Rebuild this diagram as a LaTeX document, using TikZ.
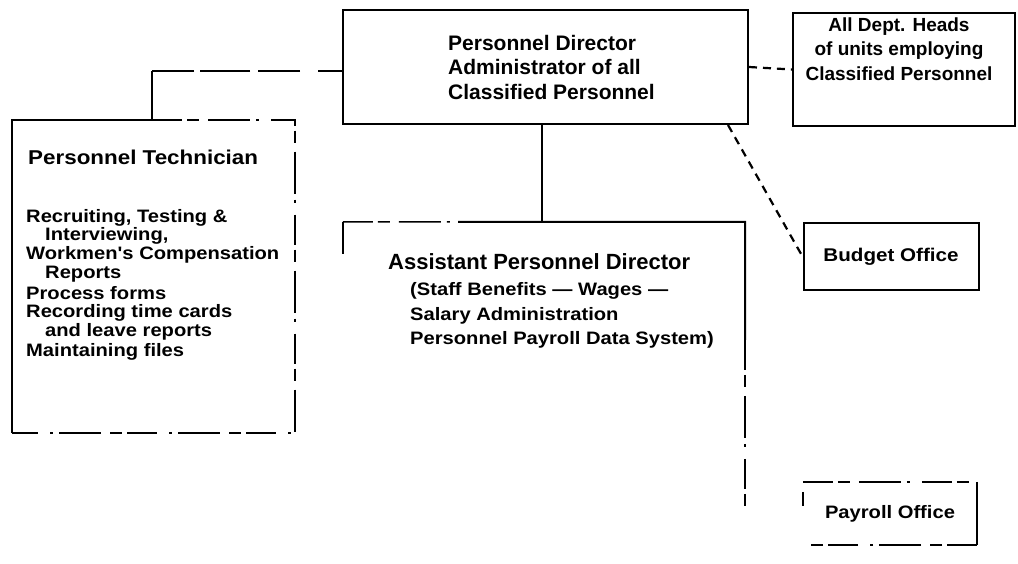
\documentclass[tikz,border=0pt]{standalone}
\usepackage{fontspec}
\setmainfont{Liberation Sans}
% bold sans for headings, and a slightly widened cut of it for the lists
\newfontfamily\headfont{Liberation Sans Bold}
\newfontfamily\orgfont{Liberation Sans Bold}[FakeStretch=1.12]
\begin{document}
\begin{tikzpicture}[x=1pt,y=-1pt,
  box/.style={draw, line width=2pt, rectangle, inner sep=0pt},
  frame/.style={rectangle, inner sep=0pt},
  head/.style={font=\headfont\fontsize{21}{24.5}\selectfont, inner sep=0pt},
  item/.style={font=\orgfont\fontsize{18}{20}\selectfont, anchor=west, inner sep=0pt},
  edge/.style={line width=2pt},
  broken/.style={line width=1.5pt, dash pattern=on 30pt off 5pt on 12pt off 9pt on 42pt off 6pt on 3pt off 12pt},
  dashlink/.style={line width=2.2pt, dash pattern=on 8pt off 6pt}]

\useasboundingbox (0,0) rectangle (1018,564);

% ---- boxes ----
\node[box, minimum width=405pt, minimum height=114pt] (dir) at (545.5,67) {};
\node[head, anchor=west, align=left] (dirtxt) at (448,67)
  {Personnel Director\\Administrator of all\\Classified Personnel};
\node[box, minimum width=222pt, minimum height=113pt] (dhead) at (904,69.5) {};
\node[head, align=center, font=\headfont\fontsize{19}{24.5}\selectfont] (dheadtxt) at (899,49)
  {All Dept. Heads\\of units employing\\Classified Personnel};
\node[box, font=\orgfont\fontsize{18.4}{20}\selectfont, minimum width=175pt, minimum height=67pt] (budget) at (891,256.5) {Budget Office};
\node[frame, font=\orgfont\fontsize{18}{20}\selectfont, minimum width=174pt, minimum height=63pt] (payroll) at (890,513.5) {Payroll Office};
\node[frame, minimum width=283pt, minimum height=313pt] (tech) at (153.5,276.5) {};
\node[frame, minimum width=402pt, minimum height=350pt] (asst) at (544,397) {};

% ---- edges of the partly broken frames ----
\coordinate (ljoin) at (152,71);
\draw[edge] (tech.south west) -- (tech.north west) -- (ljoin |- tech.north);
\draw[broken] (ljoin |- tech.north) -- (tech.north east) -- (tech.south east) -- (tech.south west);

\coordinate (atop) at (458,222);
\draw[broken] (asst.north west) -- (atop);
\draw[edge] (atop) -- (asst.north east) -- ++(0,118) coordinate (aright);
\draw[broken] (aright) -- ++(0,173);
\draw[edge] (asst.north west) -- ++(0,32);

\draw[edge] (payroll.north east) -- (payroll.south east);
\draw[broken] (payroll.south east) -- (payroll.south west);
\draw[broken] (payroll.north west) -- (payroll.north east);
\draw[edge] ([yshift=-10pt]payroll.north west) -- ([yshift=-24pt]payroll.north west);

% ---- connectors ----
\draw[edge, dash pattern=on 24pt off 18pt on 42pt off 8pt on 50pt off 6pt on 50pt]
  (dir.west |- ljoin) -- (ljoin);
\draw[edge] (ljoin) -- (ljoin |- tech.north);
\draw[edge] (dir.south -| 542,0) -- (asst.north -| 542,0);
\draw[dashlink] (dir.east) -- (dhead.west);
\draw[dashlink] ([xshift=-21pt]dir.south east) -- (budget.west);

% ---- texts ----
\node[item, font=\orgfont\fontsize{20}{20}\selectfont] (t0) at (28,157) {Personnel Technician};
\node[item] (t1) at (26,218) {Recruiting, Testing \&};
\node[item] (t2) at (45,236) {Interviewing,};
\node[item] (t3) at (26,255) {Workmen's Compensation};
\node[item] (t4) at (45,274) {Reports};
\node[item] (t5) at (26,293) {Process forms};
\node[item] (t6) at (26,313) {Recording time cards};
\node[item] (t7) at (45,332) {and leave reports};
\node[item] (t8) at (26,352) {Maintaining files};

\node[item, font=\headfont\fontsize{22}{20}\selectfont] (a0) at (388,262) {Assistant Personnel Director};
\node[item] (a1) at (410,291) {(Staff Benefits — Wages —};
\node[item] (a2) at (410,316) {Salary Administration};
\node[item] (a3) at (410,340) {Personnel Payroll Data System)};
\end{tikzpicture}
\end{document}
